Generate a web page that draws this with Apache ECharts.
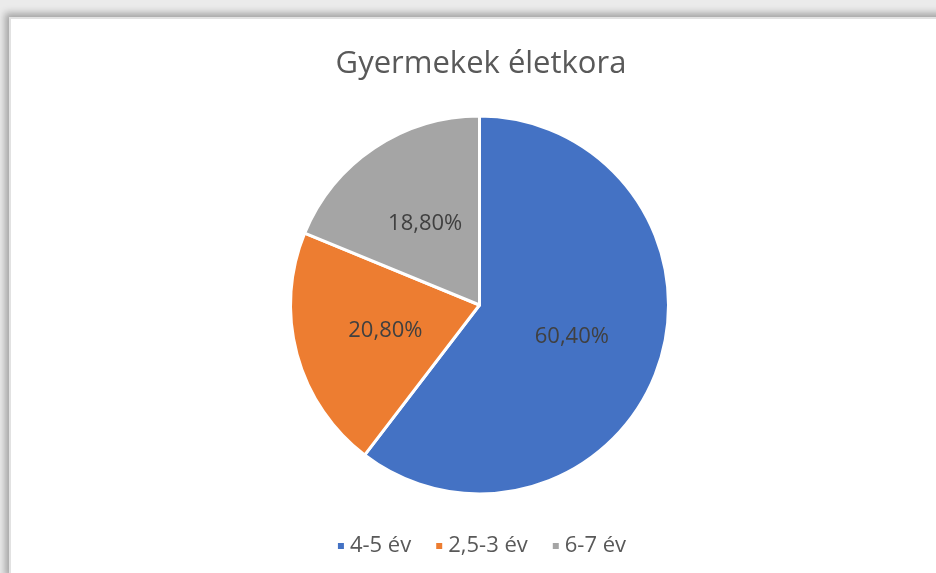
<!DOCTYPE html>
<html>
<head>
    <title>Gyermekek életkora</title>
    <script src="https://cdn.jsdelivr.net/npm/echarts@6/dist/echarts.min.js"></script>
    <style>
        html, body {
            margin: 0;
            padding: 0;
            width: 936px;
            height: 573px;
            overflow: hidden;
            background: #ebebeb;
        }
        #chart {
            position: absolute;
            left: 11px;
            top: 19px;
            width: 940px;
            height: 560px;
            background: #fff;
            box-shadow: 0 0 0 2px #e2e2e2, -4px -4px 7px 2px rgba(0, 0, 0, 0.3);
        }
    </style>
</head>
<body>
    <div id="chart"></div>

    <script>
    // adatok
    const categories = ['4-5 év', '2,5-3 év', '6-7 év'];
    const values = [60.4, 20.8, 18.8];
    const colors = ['#4472C4', '#ED7D31', '#A5A5A5'];

    const chart = echarts.init(document.getElementById('chart'));
    const font = "'Open Sans', 'Noto Sans', sans-serif";

    chart.setOption({
        animation: false,
        title: {
            text: 'Gyermekek életkora',
            left: 'center',
            top: 30,
            padding: 0,
            textStyle: { fontFamily: font, fontSize: 31, fontWeight: 'normal', color: '#595959' }
        },
        legend: {
            top: 510,
            left: 'center',
            icon: 'rect',
            itemWidth: 8,
            itemHeight: 8,
            itemGap: 23,
            selectedMode: false,
            textStyle: { fontFamily: font, fontSize: 22, lineHeight: 24, color: '#595959', padding: [0, 0, 0, 0] },
            data: categories
        },
        series: [{
            type: 'pie',
            center: [468.5, 286],
            radius: 189,
            startAngle: 90,
            clockwise: true,
            label: {
                show: true,
                position: 'inside',
                fontFamily: font,
                fontSize: 22,
                color: '#404040',
                formatter: p => p.value.toFixed(2).replace('.', ',') + '%'
            },
            labelLine: { show: false },
            itemStyle: { borderColor: '#fff', borderWidth: 3 },
            emphasis: { disabled: true },
            data: categories.map((c, i) => ({
                name: c,
                value: values[i],
                itemStyle: { color: colors[i] }
            }))
        }]
    });
    </script>
</body>
</html>
